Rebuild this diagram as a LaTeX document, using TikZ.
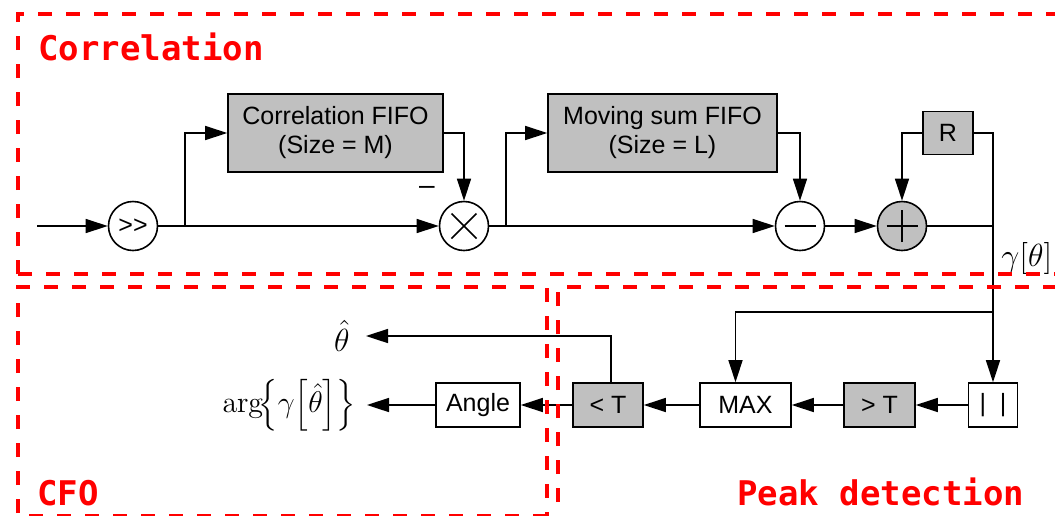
\documentclass[tikz,border=0pt]{standalone}
\usepackage{fix-cm}
\usepackage{amsmath}
\usepackage[no-math]{fontspec}
\setmainfont{Liberation Sans}
\newfontfamily\zonefont{DejaVu Sans Mono}
\usetikzlibrary{arrows.meta}
\definecolor{blockgray}{RGB}{192,192,192}
\newcommand{\blockfont}{\fontsize{12.5}{14.5}\selectfont}
\begin{document}
\begin{tikzpicture}[x=0.5pt, y=-0.5pt,
    box/.style={draw, line width=0.8pt, minimum height=22pt, inner sep=0pt, align=center, font=\blockfont},
    graybox/.style={box, fill=blockgray},
    op/.style={draw, circle, line width=0.8pt, minimum size=24.5pt, inner sep=0pt, font=\blockfont},
    zone/.style={draw=red, line width=2pt, dash pattern=on 7pt off 7pt},
    zonelabel/.style={text=red, font=\zonefont\bfseries\fontsize{17}{20}\selectfont, anchor=base west, inner sep=0pt},
    sig/.style={line width=0.8pt, -{Triangle[length=11pt,width=7pt]}},
    wire/.style={line width=0.8pt},
    mathlabel/.style={font=\fontsize{16}{19}\selectfont, inner ysep=0pt, inner xsep=0pt}]
    \useasboundingbox (0,0) rectangle (1055,515);

    % correlation
    \coordinate (in) at (37,226);
    \node[op] (shift) at (133,226) {>{}>};
    \node[graybox, minimum width=107.5pt, minimum height=39pt] (corrfifo) at (335.5,133) {Correlation FIFO\\(Size = M)};
    \node[op] (mult) at (464,226) {};
    \node[font=\fontsize{14}{16}\selectfont, inner sep=0pt] (conj) at (427,190) {--};
    \node[graybox, minimum width=114.5pt, minimum height=39pt] (sumfifo) at (662.5,133) {Moving sum FIFO\\(Size = L)};
    \node[op] (sub) at (800,226) {};
    \node[op, fill=blockgray] (add) at (902,226) {};
    \node[graybox, minimum width=25pt, minimum height=21.5pt] (reg) at (948,133) {R};
    \coordinate (tap1) at (185,226);
    \coordinate (tap2) at (506,226);
    \coordinate (gammaout) at (993,226);
    \node[anchor=west, font=\fontsize{16}{19}\selectfont, inner sep=0pt] (gamma) at (1001,258) {$\gamma[\theta]$};

    \draw[wire] ([shift={(-12.5,-12.5)}]mult.center) -- ([shift={(12.5,12.5)}]mult.center);
    \draw[wire] ([shift={(-12.5,12.5)}]mult.center) -- ([shift={(12.5,-12.5)}]mult.center);
    \draw[wire] ([xshift=-7.75pt]sub.center) -- ([xshift=7.75pt]sub.center);
    \draw[wire] ([xshift=-7.75pt]add.center) -- ([xshift=7.75pt]add.center);
    \draw[wire] ([yshift=-8pt]add.center) -- ([yshift=8pt]add.center);

    \draw[sig] (in) -- (shift);
    \draw[sig] (shift) -- (mult);
    \draw[sig] (tap1) |- (corrfifo.west);
    \draw[sig] (corrfifo.east) -| (mult.north);
    \draw[sig] (mult) -- (sub);
    \draw[sig] (tap2) |- (sumfifo.west);
    \draw[sig] (sumfifo.east) -| (sub.north);
    \draw[sig] (sub) -- (add);
    \draw[sig] (reg.west) -| (add.north);
    \draw[wire] (add) -- (gammaout);

    % peak detection
    \node[box, minimum width=24.5pt] (abs) at (993,405) {|~~|};
    \node[graybox, minimum width=35.5pt] (gtT) at (879.5,405) {> T};
    \node[box, minimum width=45.5pt] (max) at (745.5,405) {MAX};
    \node[graybox, minimum width=35pt] (ltT) at (608,405) {< T};
    \coordinate (maxtap) at (993,312);

    \draw[sig] (reg.east) -| (abs.north);
    \draw[sig] (maxtap) -| ([xshift=-5pt]max.north);
    \draw[sig] (abs) -- (gtT);
    \draw[sig] (gtT) -- (max);
    \draw[sig] (max) -- (ltT);

    % CFO
    \node[box, minimum width=42pt] (angle) at (478,405) {Angle};
    \node[mathlabel, anchor=east] (thetaout) at (350,336) {$\hat{\theta}$};
    \node[mathlabel, anchor=east, font=\fontsize{15}{18}\selectfont] (argout) at (356,405) {$\arg\!\Bigl\{\gamma\Bigl[\hat{\theta}\Bigr]\Bigr\}$};

    \draw[sig] (ltT) -- (angle);
    \draw[sig] (angle) -- ([xshift=5.5pt]argout.east);
    \draw[sig] ([xshift=1.5pt]ltT.north) |- ([xshift=8pt]thetaout.east);

    % zones
    \draw[zone] (18,274) -- (18,14) -- (1080,14);
    \draw[zone] (18,274) -- (1080,274);
    \draw[zone] (547,516) -- (18,516) -- (18,287) -- (547,287) -- cycle;
    \draw[zone] (558,530) -- (558,287) -- (1080,287);
    \node[zonelabel] (corrlabel) at (38,60) {Correlation};
    \node[zonelabel] (cfolabel) at (37,505) {CFO};
    \node[zonelabel] (peaklabel) at (737,505) {Peak detection};
\end{tikzpicture}
\end{document}
